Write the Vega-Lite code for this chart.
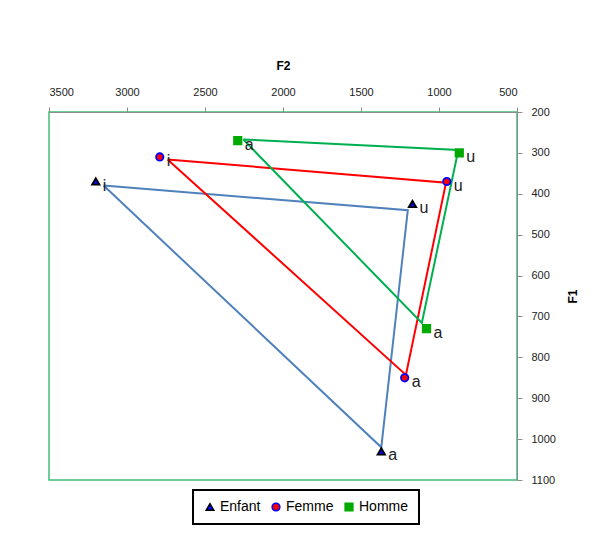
{
  "$schema": "https://vega.github.io/schema/vega-lite/v6.json",
  "width": 468,
  "height": 368,
  "autosize": {"type": "none"},
  "padding": {"left": 49, "top": 112, "right": 84, "bottom": 53},
  "background": "white",
  "datasets": {
    "lines": [
      {"serie": "Enfant", "voyelle": "i", "F2": 3150, "F1": 380, "ord": 1},
      {"serie": "Enfant", "voyelle": "u", "F2": 1200, "F1": 440, "ord": 2},
      {"serie": "Enfant", "voyelle": "a", "F2": 1370, "F1": 1020, "ord": 3},
      {"serie": "Enfant", "voyelle": "i", "F2": 3150, "F1": 380, "ord": 4},
      {"serie": "Femme", "voyelle": "i", "F2": 2740, "F1": 316, "ord": 1},
      {"serie": "Femme", "voyelle": "u", "F2": 955, "F1": 373, "ord": 2},
      {"serie": "Femme", "voyelle": "a", "F2": 1212, "F1": 843, "ord": 3},
      {"serie": "Femme", "voyelle": "i", "F2": 2740, "F1": 316, "ord": 4},
      {"serie": "Homme", "voyelle": "a", "F2": 2255, "F1": 267, "ord": 1},
      {"serie": "Homme", "voyelle": "u", "F2": 876, "F1": 293, "ord": 2},
      {"serie": "Homme", "voyelle": "a", "F2": 1110, "F1": 716, "ord": 3},
      {"serie": "Homme", "voyelle": "a", "F2": 2255, "F1": 267, "ord": 4}
    ],
    "points": [
      {"serie": "Enfant", "voyelle": "i", "F2": 3200, "F1": 370},
      {"serie": "Enfant", "voyelle": "u", "F2": 1170, "F1": 425},
      {"serie": "Enfant", "voyelle": "a", "F2": 1370, "F1": 1030},
      {"serie": "Femme", "voyelle": "i", "F2": 2790, "F1": 310},
      {"serie": "Femme", "voyelle": "u", "F2": 950, "F1": 370},
      {"serie": "Femme", "voyelle": "a", "F2": 1220, "F1": 850},
      {"serie": "Homme", "voyelle": "a", "F2": 2290, "F1": 270},
      {"serie": "Homme", "voyelle": "u", "F2": 870, "F1": 300},
      {"serie": "Homme", "voyelle": "a", "F2": 1080, "F1": 730}
    ]
  },
  "encoding": {
    "x": {
      "field": "F2", "type": "quantitative",
      "scale": {"domain": [500, 3500], "reverse": true, "nice": false, "zero": false},
      "axis": {"orient": "top", "title": "F2", "format": "d", "values": [500, 1000, 1500, 2000, 2500, 3000, 3500], "grid": false, "labelPadding": 10, "titlePadding": 14}
    },
    "y": {
      "field": "F1", "type": "quantitative",
      "scale": {"domain": [200, 1100], "reverse": true, "nice": false, "zero": false},
      "axis": {"orient": "right", "title": "F1", "format": "d", "values": [200, 300, 400, 500, 600, 700, 800, 900, 1000, 1100], "grid": false, "labelPadding": 9, "titlePadding": 24, "titleAngle": 270}
    }
  },
  "layer": [
    {
      "data": {"name": "lines"},
      "transform": [{"filter": "datum.serie === 'Enfant'"}],
      "mark": {"type": "line", "strokeWidth": 2, "color": "#4F81BD"},
      "encoding": {"order": {"field": "ord", "type": "quantitative"}}
    },
    {
      "data": {"name": "lines"},
      "transform": [{"filter": "datum.serie === 'Femme'"}],
      "mark": {"type": "line", "strokeWidth": 2, "color": "#FF0000"},
      "encoding": {"order": {"field": "ord", "type": "quantitative"}}
    },
    {
      "data": {"name": "lines"},
      "transform": [{"filter": "datum.serie === 'Homme'"}],
      "mark": {"type": "line", "strokeWidth": 2, "color": "#00B050"},
      "encoding": {"order": {"field": "ord", "type": "quantitative"}}
    },
    {
      "data": {"name": "points"},
      "mark": {"type": "point", "filled": true, "size": 55, "strokeWidth": 1.8, "opacity": 1},
      "encoding": {
        "fill": {
          "field": "serie", "type": "nominal", "title": null,
          "scale": {"domain": ["Enfant", "Femme", "Homme"], "range": ["#0000FF", "#FF0000", "#00AA00"]},
          "legend": {"orient": "none", "legendX": 144, "legendY": 378, "direction": "horizontal", "title": null}
        },
        "stroke": {
          "field": "serie", "type": "nominal", "title": null,
          "scale": {"domain": ["Enfant", "Femme", "Homme"], "range": ["#000000", "#0000FF", "#00AA00"]},
          "legend": {"orient": "none", "legendX": 144, "legendY": 378, "direction": "horizontal", "title": null}
        },
        "shape": {
          "field": "serie", "type": "nominal", "title": null,
          "scale": {"domain": ["Enfant", "Femme", "Homme"], "range": ["triangle-up", "circle", "square"]},
          "legend": {"orient": "none", "legendX": 144, "legendY": 378, "direction": "horizontal", "title": null}
        }
      }
    },
    {
      "data": {"name": "points"},
      "mark": {"type": "text", "align": "left", "baseline": "middle", "dx": 7, "dy": 4, "fontSize": 16, "color": "#222222"},
      "encoding": {
        "text": {"field": "voyelle", "type": "nominal"}
      }
    }
  ],
  "config": {
    "font": "Liberation Sans Narrow, Liberation Sans, sans-serif",
    "view": {"stroke": "#3DBE78", "strokeWidth": 1.5},
    "axis": {
      "domainColor": "#8C8C8C",
      "tickColor": "#8C8C8C",
      "tickSize": 5,
      "labelFontSize": 11,
      "labelColor": "#222222",
      "titleFontSize": 12,
      "titleFontWeight": "bold",
      "titleColor": "#000000"
    },
    "legend": {
      "strokeColor": "#000000",
      "strokeWidth": 2,
      "fillColor": "white",
      "padding": 10,
      "labelFontSize": 14,
      "labelColor": "#000000",
      "symbolSize": 60,
      "columnPadding": 8,
      "labelOffset": 3
    }
  }
}
